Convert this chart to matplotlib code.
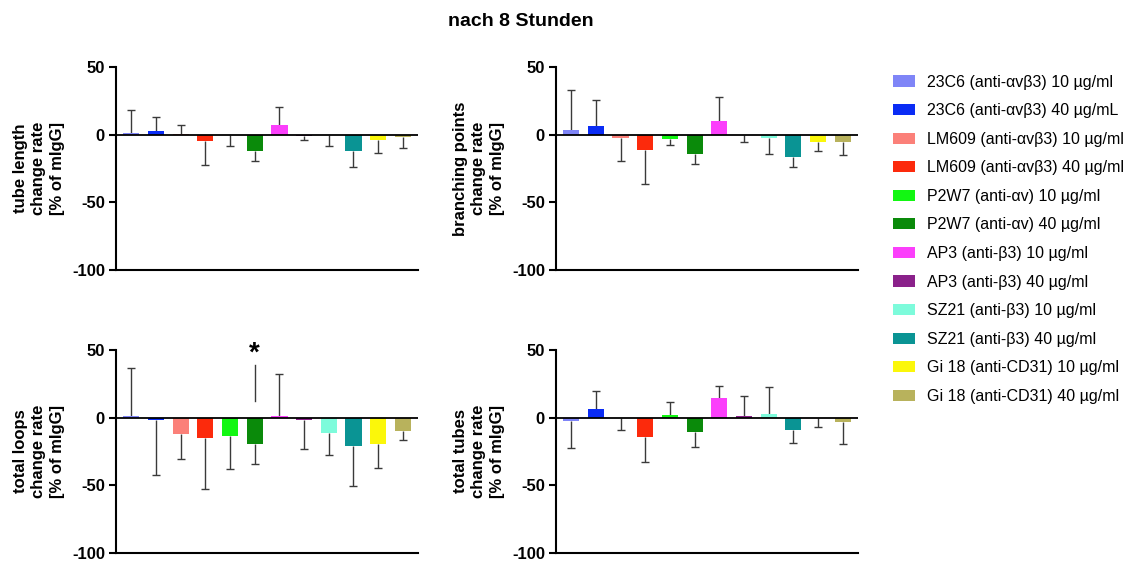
import numpy as np
import matplotlib
matplotlib.use("Agg")
import matplotlib.pyplot as plt
from matplotlib.patches import Patch

plt.rcParams['font.family'] = ['Liberation Sans', 'DejaVu Sans']
plt.rcParams['axes.unicode_minus'] = False

labels = ["23C6 (anti-αvβ3) 10 µg/ml", "23C6 (anti-αvβ3) 40 µg/mL",
          "LM609 (anti-αvβ3) 10 µg/ml", "LM609 (anti-αvβ3) 40 µg/ml",
          "P2W7 (anti-αv) 10 µg/ml", "P2W7 (anti-αv) 40 µg/ml",
          "AP3 (anti-β3) 10 µg/ml", "AP3 (anti-β3) 40 µg/ml",
          "SZ21 (anti-β3) 10 µg/ml", "SZ21 (anti-β3) 40 µg/ml",
          "Gi 18 (anti-CD31) 10 µg/ml", "Gi 18 (anti-CD31) 40 µg/ml"]
colors = ["#7f85f7", "#0a2cf5", "#fb8079", "#fc2a0c", "#12f712", "#0a8a0a",
          "#fb3ffb", "#8a218a", "#7dfbdb", "#0a9494", "#fbf70a", "#b8b25c"]

# mean change rate and SD (one-sided error bar, away from zero)
tube_length = [1.5, 3, 0.5, -5, -0.3, -11.9, 7.2, -1.2, -0.3, -12.3, -3.7, -2]
tube_length_sd = [16.8, 10.3, 6.9, 17.7, 8.3, 7.9, 13.5, 2.8, 7.8, 11.4, 9.6, 7.9]
branching = [3.7, 6.2, -2.5, -11.1, -3.2, -14.3, 10.1, -0.5, -2.5, -16.3, -5.4, -5.7]
branching_sd = [29.6, 19.5, 16.8, 25.4, 4.5, 7.7, 17.6, 5.2, 11.6, 7.7, 6.5, 9.1]
loops = [1, -2, -12.1, -15.1, -13.8, -19.8, 1.5, -1.5, -11.4, -20.7, -19.5, -10.1]
loops_sd = [35.8, 40.5, 18.3, 37.7, 24.5, 14.8, 31.1, 21.5, 16.3, 29.7, 17.8, 6.7]
tubes = [-2.5, 6.7, -0.3, -14.1, 2.2, -10.4, 14.6, 1, 3, -9.4, -0.3, -3.5]
tubes_sd = [19.7, 12.8, 8.6, 18.7, 9.4, 11.1, 8.6, 15, 19.7, 9.1, 6.4, 15.8]

ylabels = ["tube length\nchange rate\n[% of mIgG]",
           "branching points\nchange rate\n[% of mIgG]",
           "total loops\nchange rate\n[% of mIgG]",
           "total tubes\nchange rate\n[% of mIgG]"]

# significance marker in the loops panel (bar index, line from/to, star y)
sig_bar = 5
sig_line = (12, 39)
sig_star = 47

fig = plt.figure(figsize=(11.31, 5.61), dpi=100)
boxes = [[0.1026, 0.5187, 0.267, 0.3619], [0.4916, 0.5187, 0.267, 0.3619],
         [0.1026, 0.0143, 0.267, 0.3619], [0.4916, 0.0143, 0.267, 0.3619]]
data = [(tube_length, tube_length_sd), (branching, branching_sd),
        (loops, loops_sd), (tubes, tubes_sd)]

x = np.arange(len(labels))
err_col = '#3a3a3a'
for box, (vals, sd), yl in zip(boxes, data, ylabels):
    ax = fig.add_axes(box)
    vals = np.array(vals)
    sd = np.array(sd)
    # error bar only on the side away from zero, cap only at the far end
    ends = np.where(vals < 0, vals - sd, vals + sd)
    ax.vlines(x, vals, ends, color=err_col, lw=1, zorder=2)
    ax.hlines(ends, x - 0.16, x + 0.16, color=err_col, lw=1, zorder=2)
    ax.bar(x, vals, width=0.66, color=colors, zorder=3)
    ax.axhline(0, color='black', lw=1.3, zorder=4)
    ax.set_xlim(-0.62, 11.62)
    ax.set_ylim(-100, 50)
    ax.set_yticks([50, 0, -50, -100])
    ax.set_xticks([])
    for s in ['top', 'right']:
        ax.spines[s].set_visible(False)
    for s in ['left', 'bottom']:
        ax.spines[s].set_linewidth(1.5)
    ax.tick_params(axis='y', width=1.5, length=5, labelsize=12, pad=3)
    for t in ax.get_yticklabels():
        t.set_fontweight('bold')
    ax.set_ylabel(yl, fontsize=12, fontweight='bold', labelpad=5, linespacing=1.3)
    if yl.startswith("total loops"):
        ax.plot([sig_bar, sig_bar], sig_line, color=err_col, lw=1, clip_on=False)
        ax.text(sig_bar, sig_star, "*", ha='center', va='center', fontsize=20,
                fontweight='bold', clip_on=False)

fig.text(0.4607, 0.961, "nach 8 Stunden", ha='center', va='center',
         fontsize=14, fontweight='bold')

handles = [Patch(facecolor=c, label=l) for c, l in zip(colors, labels)]
fig.legend(handles=handles, loc='upper left', bbox_to_anchor=(0.7896, 0.867),
           frameon=False, fontsize=11.5, handlelength=1.375, handleheight=0.7,
           handletextpad=0.75, labelspacing=0.85, borderpad=0, borderaxespad=0)

fig.savefig("out.png", dpi=100)
